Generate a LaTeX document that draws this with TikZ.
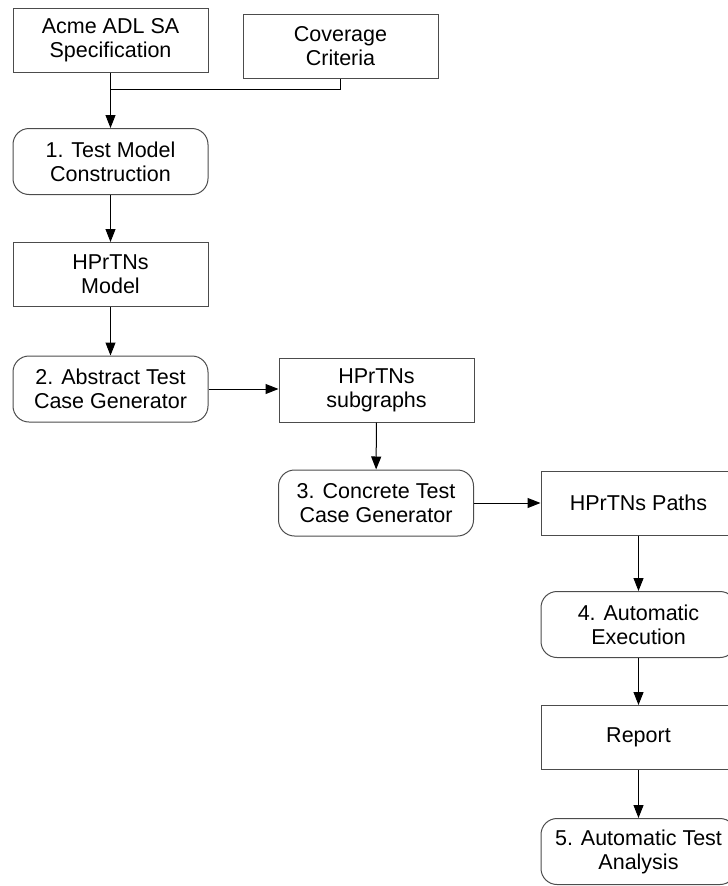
\documentclass[tikz,border=0pt]{standalone}
\usepackage{fontspec}
\setmainfont{Liberation Sans}
\usetikzlibrary{arrows.meta}
\begin{document}
\begin{tikzpicture}[x=1pt,y=-1pt,
  every node/.style={font=\fontsize{21.5}{24}\selectfont, align=center, text=black},
  databox/.style={draw=black!70, line width=1pt, minimum width=195pt, minimum height=64pt, inner sep=0pt},
  stepbox/.style={databox, rounded corners=16pt, minimum height=66pt},
  flow/.style={draw=black, line width=1pt, -{Triangle[length=13pt,width=10pt]}},
  link/.style={draw=black, line width=1pt}]
\useasboundingbox (0,0) rectangle (728,886);

\node[databox] (acme)   at (110.5,40)  {Acme ADL SA\\Specification};
\node[databox] (cov)    at (340.5,46)  {Coverage\\Criteria};
\node[stepbox] (t1)     at (110.5,161.5) {1. Test Model\\Construction};
\node[databox] (model)  at (110.5,274.5) {HPrTNs\\Model};
\node[stepbox] (t2)     at (110.5,389) {2. Abstract Test\\Case Generator};
\node[databox] (sub)    at (376.5,390) {HPrTNs\\subgraphs};
\node[stepbox] (t3)     at (376,503)   {3. Concrete Test\\Case Generator};
\node[databox] (paths)  at (638.5,503) {HPrTNs Paths};
\node[stepbox] (t4)     at (638.5,624.5) {4. Automatic\\Execution};
\node[databox] (report) at (638.5,737.5) {Report};
\node[stepbox] (t5)     at (638.5,851.5) {5. Automatic Test\\Analysis};

\coordinate (jn) at (110.5,89);
\draw[link] (cov.south) |- (jn);
\draw[flow] (acme.south) -- (t1.north);
\draw[flow] (t1) -- (model);
\draw[flow] (model) -- (t2);
\draw[flow] (t2.east) -- (t2.east -| sub.west);
\draw[flow] (sub) -- (t3);
\draw[flow] (t3) -- (paths);
\draw[flow] (paths) -- (t4);
\draw[flow] (t4) -- (report);
\draw[flow] (report) -- (t5);
\end{tikzpicture}
\end{document}
